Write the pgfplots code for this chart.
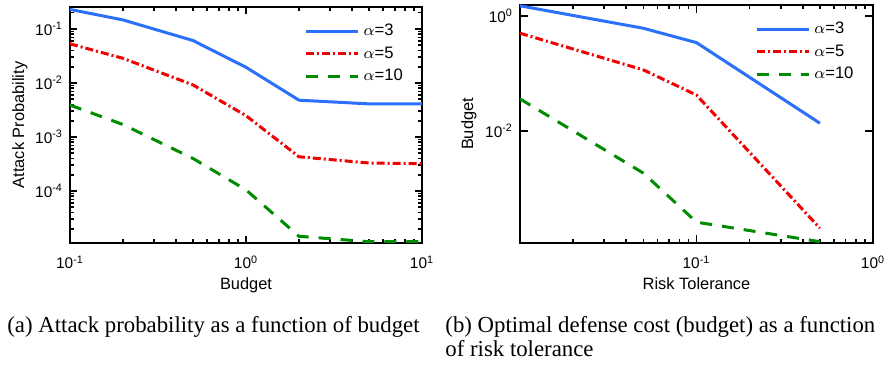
\documentclass[border=0pt]{standalone}
\usepackage{pgfplots}
\pgfplotsset{compat=1.18}
\usepackage{fontspec}
\setmainfont{Liberation Serif}
\setsansfont{Liberation Sans}
\definecolor{cblue}{RGB}{42,112,250}
\definecolor{cred}{RGB}{240,0,0}
\definecolor{cgreen}{RGB}{0,140,0}
\tikzset{
  s3/.style={cblue, line width=1.5pt},
  s5/.style={cred, line width=1.5pt, dash pattern=on 4pt off 1.5pt on 1pt off 1.5pt},
  s10/.style={cgreen, line width=1.5pt, dash pattern=on 6pt off 5pt},
}
\pgfplotsset{
  every axis/.append style={
    scale only axis,
    font=\sffamily\fontsize{8.2}{9.5}\selectfont,
    axis line style={line width=1pt},
    tick align=inside,
    major tick length=3.5pt, minor tick length=2pt,
    tick style={black, line width=0.8pt},
    legend cell align=left,
    xticklabel style={font=\sffamily\fontsize{7.7}{9}\selectfont, anchor=base, yshift=-13pt},
    yticklabel style={font=\sffamily\fontsize{7.7}{9}\selectfont},
  },
  every axis legend/.append style={draw=none, fill=none, at={(0.66,0.955)}, anchor=north west,
      font=\sffamily\fontsize{8.3}{9.5}\selectfont, row sep=0pt, inner sep=1pt},
  every axis x label/.append style={at={(axis description cs:0.5,0)}, anchor=base, yshift=-23.5pt},
  every axis y label/.append style={at={(axis description cs:0,0.5)}, anchor=center, rotate=0},
  legend image code/.code={\draw[#1] (0pt,0pt) -- (26pt,0pt);},
}
\begin{document}
\begin{tikzpicture}
\useasboundingbox (0,0) rectangle (443pt,183.5pt);
\begin{loglogaxis}[
  at={(35pt,62pt)}, anchor=south west,
  width=176pt, height=118pt,
  xmin=0.1, xmax=10, ymin=1.09e-5, ymax=0.255,
  xtick={0.1,1,10},
  xticklabels={{10\textsuperscript{-1}},{10\textsuperscript{0}},{10\textsuperscript{1}}},
  minor xtick={0.2,0.3,0.4,0.5,0.6,0.7,0.8,0.9,2,3,4,5,6,7,8,9},
  ytick={1e-4,1e-3,1e-2,1e-1},
  yticklabels={{10\textsuperscript{-4}},{10\textsuperscript{-3}},{10\textsuperscript{-2}},{10\textsuperscript{-1}}},
  minor ytick={2e-5,3e-5,4e-5,5e-5,6e-5,7e-5,8e-5,9e-5,2e-4,3e-4,4e-4,5e-4,6e-4,7e-4,8e-4,9e-4,2e-3,3e-3,4e-3,5e-3,6e-3,7e-3,8e-3,9e-3,2e-2,3e-2,4e-2,5e-2,6e-2,7e-2,8e-2,9e-2,0.2},
  xlabel={Budget}, ylabel={Attack Probability},
  ylabel style={yshift=25pt},
]
\addplot[s3] coordinates {(0.1,0.23)(0.2,0.147)(0.5,0.061)(1,0.0195)(2,0.0048)(5,0.0041)(10,0.0041)};
\addlegendentry{$\alpha$=3}
\addplot[s5] coordinates {(0.1,0.053)(0.2,0.0286)(0.5,0.0092)(1,0.00248)(2,0.00043)(5,0.00033)(10,0.00032)};
\addlegendentry{$\alpha$=5}
\addplot[s10] coordinates {(0.1,0.0039)(0.2,0.0017)(0.5,0.0004)(1,0.000105)(2,1.45e-5)(5,1.15e-5)(10,1.15e-5)};
\addlegendentry{$\alpha$=10}
\end{loglogaxis}
\begin{loglogaxis}[
  at={(260pt,62pt)}, anchor=south west,
  width=176.5pt, height=119pt,
  xmin=0.01, xmax=1, ymin=1.12e-4, ymax=1.55,
  xtick={0.01,0.1,1},
  xticklabels={{},{10\textsuperscript{-1}},{10\textsuperscript{0}}},
  minor xtick={0.02,0.03,0.04,0.05,0.06,0.07,0.08,0.09,0.2,0.3,0.4,0.5,0.6,0.7,0.8,0.9},
  ytick={0.01,1},
  yticklabels={{10\textsuperscript{-2}},{10\textsuperscript{0}}},
  yminorticks=false,
  major tick length=4pt,
  xlabel={Risk Tolerance}, ylabel={Budget},
  ylabel style={yshift=25.5pt},
]
\addplot[s3] coordinates {(0.01,1.5)(0.05,0.61)(0.1,0.343)(0.5,0.0136)};
\addlegendentry{$\alpha$=3}
\addplot[s5] coordinates {(0.01,0.5)(0.05,0.115)(0.1,0.042)(0.5,2.03e-4)};
\addlegendentry{$\alpha$=5}
\addplot[s10] coordinates {(0.01,0.036)(0.05,0.00184)(0.1,2.58e-4)(0.5,1.18e-4)};
\addlegendentry{$\alpha$=10}
\end{loglogaxis}
\node[anchor=base west, font=\fontsize{11.4}{13}\selectfont, inner sep=0pt] at (3.5pt,17pt) {(a) Attack probability as a function of budget};
\node[anchor=base west, font=\fontsize{11.4}{13}\selectfont, inner sep=0pt] at (222.5pt,17pt) {(b) Optimal defense cost (budget) as a function};
\node[anchor=base west, font=\fontsize{11.4}{13}\selectfont, inner sep=0pt] at (222.5pt,5pt) {of risk tolerance};
\end{tikzpicture}
\end{document}
